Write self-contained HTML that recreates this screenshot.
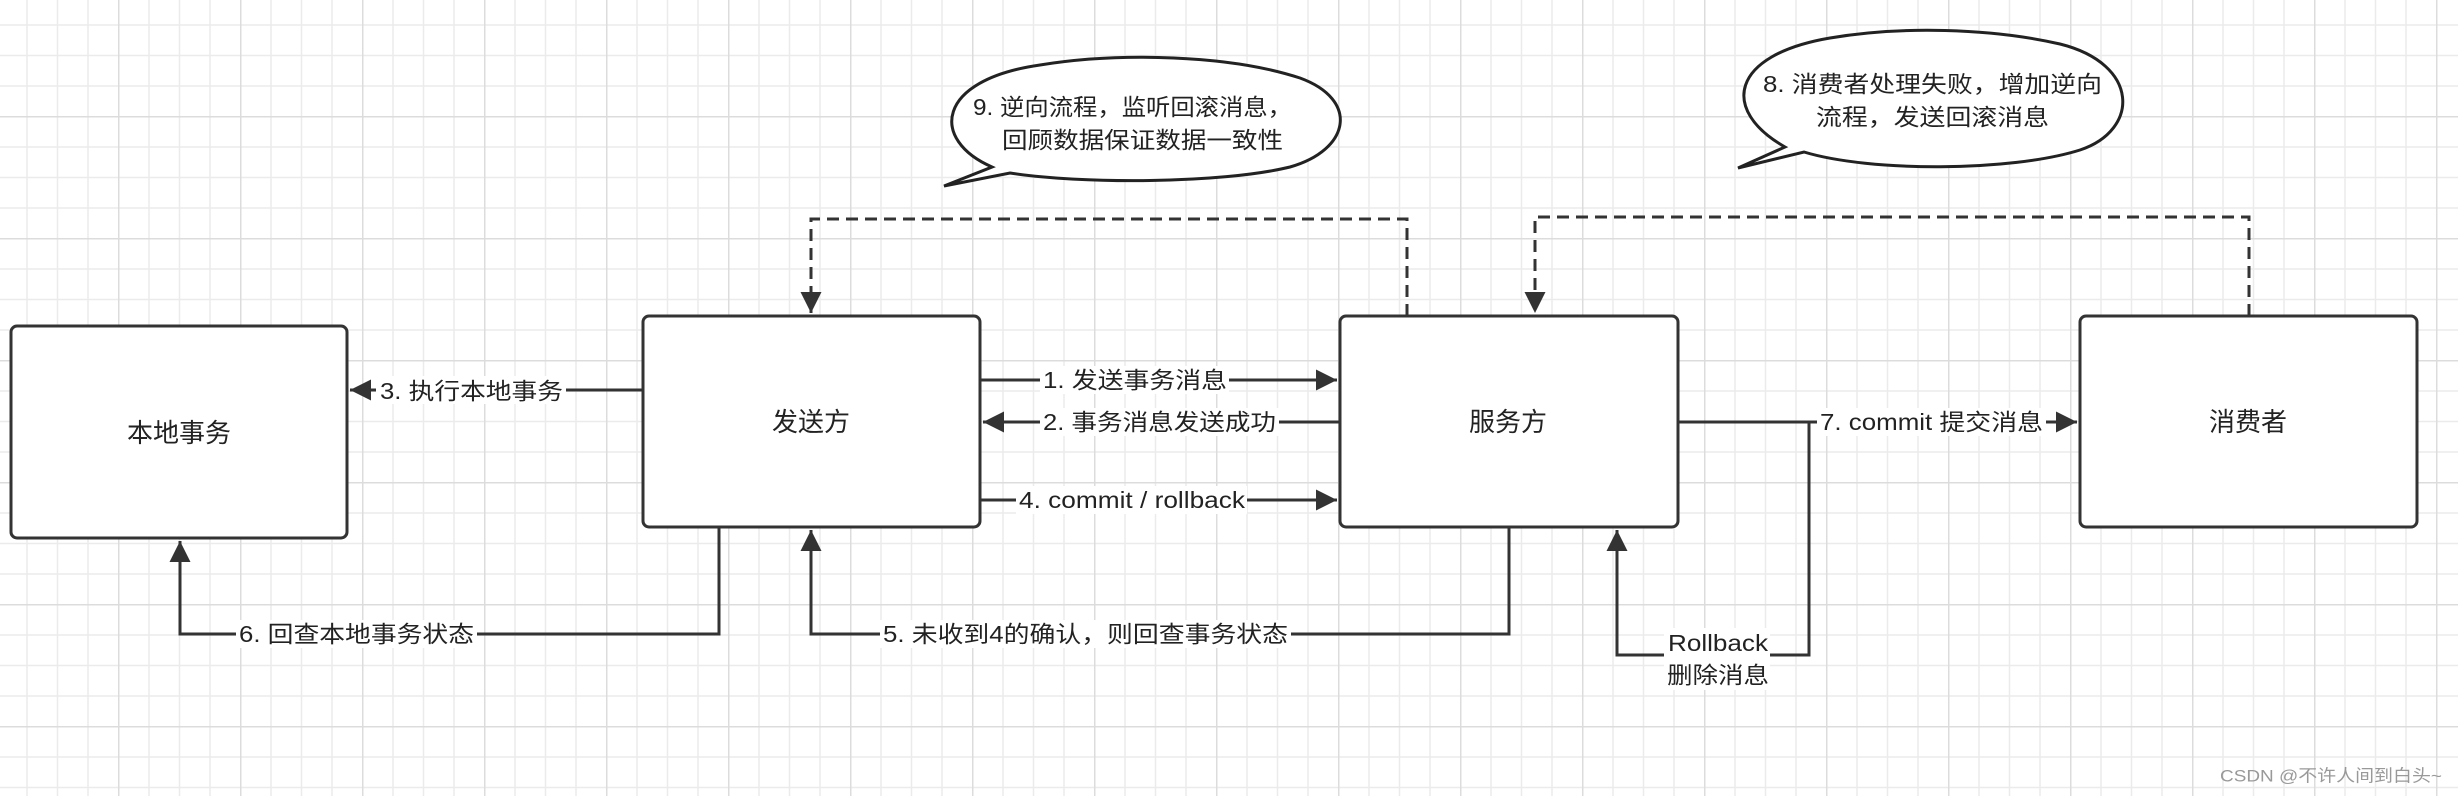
<!DOCTYPE html>
<html><head><meta charset="utf-8"><style>
html,body{margin:0;padding:0;background:#fff}
svg{display:block}
text{font-family:"Liberation Sans","Noto Sans CJK SC",sans-serif;fill:#222}
</style></head><body>
<svg width="2458" height="796" viewBox="0 0 2458 796" xmlns="http://www.w3.org/2000/svg">
<defs>
<pattern id="g" x="118" y="-6" width="122" height="122" patternUnits="userSpaceOnUse">
<path d="M0.5 0V122M31 0V122M61.5 0V122M92 0V122M0 0.5H122M0 31H122M0 61.5H122M0 92H122" stroke="#ebebeb" stroke-width="1.5" fill="none"/>
<path d="M0.5 0V122M0 0.5H122" stroke="#dcdcdc" stroke-width="2" fill="none"/>
</pattern>
<marker id="a" viewBox="0 0 10 10" refX="10" refY="5" markerWidth="7" markerHeight="7" orient="auto" markerUnits="strokeWidth">
<path d="M0 0L10 5L0 10z" fill="#333"/>
</marker>
</defs>
<rect width="2458" height="796" fill="#fff"/>
<rect width="2458" height="796" fill="url(#g)"/>

<g fill="#fff" stroke="#333" stroke-width="3">
<rect x="11" y="326" width="336" height="212" rx="6"/>
<rect x="643" y="316" width="337" height="211" rx="6"/>
<rect x="1340" y="316" width="338" height="211" rx="6"/>
<rect x="2080" y="316" width="337" height="211" rx="6"/>
</g>
<g font-size="26" text-anchor="middle" dominant-baseline="central">
<text x="179" y="433">本地事务</text>
<text x="811" y="422">发送方</text>
<text x="1508" y="422">服务方</text>
<text x="2248" y="422">消费者</text>
</g>

<g stroke="#333" stroke-width="3" fill="none">
<path d="M643 390H350" marker-end="url(#a)"/>
<path d="M980 380H1337" marker-end="url(#a)"/>
<path d="M1340 422H983" marker-end="url(#a)"/>
<path d="M980 500H1337" marker-end="url(#a)"/>
<path d="M719 527V634H180V541" marker-end="url(#a)"/>
<path d="M1509 527V634H811V530" marker-end="url(#a)"/>
<path d="M1678 422H2077" marker-end="url(#a)"/>
<path d="M1809 422V655H1617V530" marker-end="url(#a)"/>
<path d="M1407 316V219H811V313" stroke-dasharray="12 7" marker-end="url(#a)"/>
<path d="M2249 316V217H1535V313" stroke-dasharray="12 7" marker-end="url(#a)"/>
</g>

<g fill="#fff">
<rect x="376" y="376" width="190" height="28"/>
<rect x="1040" y="366" width="189" height="28"/>
<rect x="1040" y="408" width="239" height="28"/>
<rect x="1016" y="486" width="231" height="28"/>
<rect x="236" y="620" width="241" height="28"/>
<rect x="880" y="620" width="411" height="28"/>
<rect x="1817" y="408" width="229" height="28"/>
<rect x="1664" y="628" width="106" height="62"/>
</g>
<g font-size="23" dominant-baseline="central">
<text x="380" y="391" textLength="183" lengthAdjust="spacingAndGlyphs">3. 执行本地事务</text>
<text x="1043" y="380" textLength="184" lengthAdjust="spacingAndGlyphs">1. 发送事务消息</text>
<text x="1043" y="422" textLength="233" lengthAdjust="spacingAndGlyphs">2. 事务消息发送成功</text>
<text x="1019" y="500" textLength="226" lengthAdjust="spacingAndGlyphs">4. commit / rollback</text>
<text x="239" y="634" textLength="235" lengthAdjust="spacingAndGlyphs">6. 回查本地事务状态</text>
<text x="883" y="634" textLength="405" lengthAdjust="spacingAndGlyphs">5. 未收到4的确认，则回查事务状态</text>
<text x="1820" y="422" textLength="223" lengthAdjust="spacingAndGlyphs">7. commit 提交消息</text>
<text x="1668" y="643" textLength="100" lengthAdjust="spacingAndGlyphs">Rollback</text>
<text x="1667" y="675" textLength="102" lengthAdjust="spacingAndGlyphs">删除消息</text>
</g>

<g fill="#fff" stroke="#222" stroke-width="3">
<path d="M992 167 C 930 140, 935 80, 1040 65 C 1120 52, 1230 55, 1300 78 C 1360 100, 1350 150, 1290 167 C 1220 184, 1080 184, 1010 173 L944 186 Z"/>
<path d="M1785 147 C 1720 110, 1730 55, 1830 38 C 1900 26, 1990 28, 2060 44 C 2140 64, 2140 130, 2080 150 C 2010 172, 1870 172, 1804 152 L1738 168 Z"/>
</g>
<g font-size="23" dominant-baseline="central">
<text x="973" y="107" textLength="319" lengthAdjust="spacingAndGlyphs">9. 逆向流程，监听回滚消息，</text>
<text x="1002" y="140" textLength="281" lengthAdjust="spacingAndGlyphs">回顾数据保证数据一致性</text>
<text x="1763" y="84" textLength="339" lengthAdjust="spacingAndGlyphs">8. 消费者处理失败，增加逆向</text>
<text x="1816" y="117" textLength="233" lengthAdjust="spacingAndGlyphs">流程，发送回滚消息</text>
</g>

<text x="2220" y="776" font-size="17" fill="#999" style="fill:#999" dominant-baseline="central" textLength="222" lengthAdjust="spacingAndGlyphs">CSDN @不许人间到白头~</text>
</svg>
</body></html>
